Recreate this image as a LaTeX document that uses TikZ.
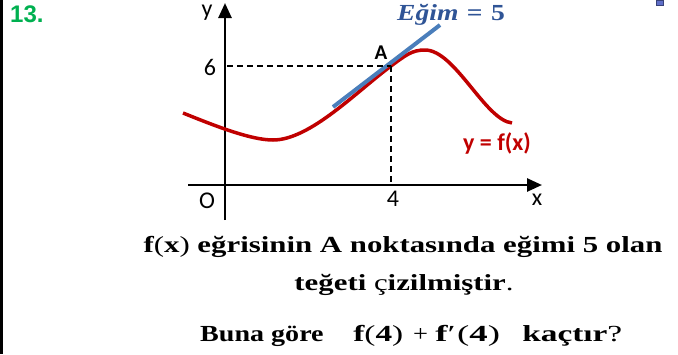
\documentclass[tikz,border=0pt]{standalone}
\usepackage{fontspec}
\setmainfont{Liberation Serif}
\newfontfamily\calib{Carlito}
\newfontfamily\arialf{Liberation Sans}
\usetikzlibrary{arrows.meta}
\definecolor{qgreen}{RGB}{0,176,80}
\definecolor{curvered}{RGB}{192,0,0}
\definecolor{tanblue}{RGB}{74,126,187}
\definecolor{labblue}{RGB}{47,84,150}
\definecolor{sqblue}{RGB}{95,110,200}
\begin{document}
\begin{tikzpicture}[x=1pt,y=-1pt,
  axis/.style={line width=2.6pt,-{Triangle[length=15pt,width=13pt]}},
  guide/.style={line width=1.8pt,dash pattern=on 6pt off 4pt},
  lab/.style={font=\calib\fontsize{24}{24}\selectfont,inner sep=0pt},
  qtext/.style={font=\bfseries\fontsize{23}{26}\selectfont,inner sep=0pt,anchor=base,xscale=1.34},
  qpiece/.style={font=\bfseries\fontsize{23}{26}\selectfont,inner sep=0pt,anchor=base west}]
\useasboundingbox (0,0) rectangle (678,354);
% frame fragments
\draw[line width=3pt] (1.5,0) -- (1.5,354);
\fill[sqblue,draw=sqblue!60!black,line width=0.5pt] (656,0) rectangle (663,5);
% number
\node[font=\arialf\bfseries\fontsize{24}{24}\selectfont,text=qgreen,anchor=west,inner sep=0pt] (num) at (10,14) {13.};
% axes
\coordinate (ybot) at (225,220);
\coordinate (ytop) at (225,3);
\coordinate (xl) at (188,185);
\coordinate (xr) at (542,185);
\draw[axis] (ybot) -- (ytop);
\draw[axis] (xl) -- (xr);
% points
\coordinate (A) at (391,66);
\coordinate (Ay) at (227,66);
\coordinate (Ax) at (391,185);
% curve
\draw[curvered,line width=3.5pt] (183,113) .. controls (213,125) and (250,140) .. (273,140)
  .. controls (310,140) and (356,92) .. (A)
  .. controls (406,55) and (412,50) .. (425,50)
  .. controls (455,50) and (485,120) .. (512,123);
% tangent
\coordinate (t1) at (333,107);
\coordinate (t2) at (440,25);
\draw[tanblue,line width=4pt] (t1) -- (t2);
% guides
\draw[guide] (Ay) -- (A);
\draw[guide] (A) -- (Ax);
% labels
\node[lab] (ylab) at (207,13) {y};
\node[lab] (six) at (210,67) {6};
\node[lab,font=\calib\bfseries\fontsize{21}{21}\selectfont] (Alab) at (381,53) {A};
\node[lab] (Olab) at (207,201) {O};
\node[lab] (four) at (393,199) {4};
\node[lab] (xlab) at (537,200) {x};
\node[lab,font=\calib\bfseries\fontsize{24}{24}\selectfont,text=curvered] (flab) at (497,143) {y = f(x)};
\node[inner sep=0pt,text=labblue,font=\bfseries\fontsize{23}{23}\selectfont,xscale=1.2,anchor=west] (egim) at (397,15) {\textit{Eğim}\hspace{7pt}=\hspace{7pt}5};
% question text
\node[qtext] (l1) at (403,252) {f{\mdseries(}x{\mdseries)} eğrisinin A noktasında eğimi 5 olan};
\node[qtext] (l2) at (404,290) {teğeti {\mdseries ç}izilmiştir{\mdseries .}};
\node[qpiece,xscale=1.22] (l3a) at (200,341) {Buna göre};
\node[qpiece,xscale=1.45] (l3b) at (353,341) {f{\mdseries(}4{\mdseries)}};
\node[qpiece,xscale=1.15] (l3c) at (413,341) {\mdseries +};
\node[qpiece,xscale=1.6] (l3d) at (435,341) {f{\mdseries ′\hspace{1pt}(}4{\mdseries)}};
\node[qpiece,xscale=1.45] (l3e) at (522,341) {kaçtır{\mdseries ?}};
\end{tikzpicture}
\end{document}
